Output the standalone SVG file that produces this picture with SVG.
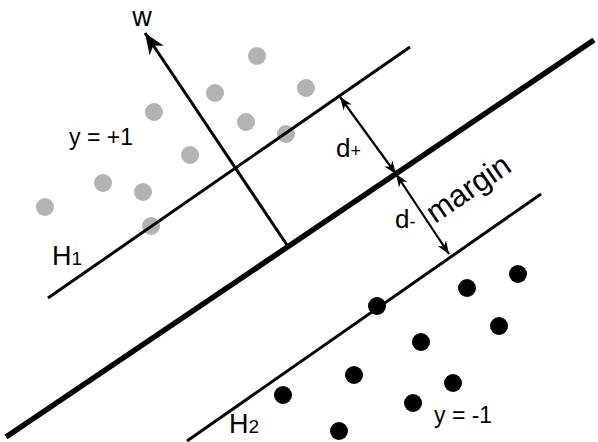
<svg xmlns="http://www.w3.org/2000/svg" width="598" height="442" viewBox="0 0 598 442">
<style>
  text { font-family: "Liberation Sans", Arial, sans-serif; fill: #000; }
  .hp { stroke: #000; stroke-width: 3; fill: none; }
  .main { stroke: #000; stroke-width: 5.5; fill: none; }
  .dim { stroke: #000; stroke-width: 2.2; fill: none; marker-start: url(#sm); marker-end: url(#sm); }
  .pos { fill: #b3b3b3; }
  .neg { fill: #000; }
</style>
<defs>
  <marker id="sm" viewBox="-14 -6 16 12" markerWidth="16" markerHeight="12" refX="0" refY="0" orient="auto-start-reverse" markerUnits="userSpaceOnUse">
    <path d="M0,0 L-13,-5 L-9,0 L-13,5 Z" fill="#000"/>
  </marker>
  <marker id="wm" viewBox="-22 -10 24 20" markerWidth="24" markerHeight="20" refX="0" refY="0" orient="auto" markerUnits="userSpaceOnUse">
    <path d="M0,0 L-21,-8.5 L-15,0 L-21,8.5 Z" fill="#000"/>
  </marker>
</defs>

<g id="points-positive">
  <circle class="pos" cx="257" cy="56" r="9"/>
  <circle class="pos" cx="306" cy="88" r="9"/>
  <circle class="pos" cx="215" cy="93" r="9"/>
  <circle class="pos" cx="154" cy="112" r="9"/>
  <circle class="pos" cx="246" cy="122" r="9"/>
  <circle class="pos" cx="286" cy="134" r="9"/>
  <circle class="pos" cx="190" cy="155" r="9"/>
  <circle class="pos" cx="103" cy="183" r="9"/>
  <circle class="pos" cx="143" cy="192" r="9"/>
  <circle class="pos" cx="45" cy="207" r="9"/>
  <circle class="pos" cx="151" cy="226" r="9"/>
</g>

<g id="points-negative">
  <circle class="neg" cx="518" cy="274" r="9"/>
  <circle class="neg" cx="467" cy="288" r="9"/>
  <circle class="neg" cx="377" cy="306" r="9"/>
  <circle class="neg" cx="499" cy="326" r="9"/>
  <circle class="neg" cx="421" cy="342" r="9"/>
  <circle class="neg" cx="354" cy="375" r="9"/>
  <circle class="neg" cx="453" cy="383" r="9"/>
  <circle class="neg" cx="283" cy="395" r="9"/>
  <circle class="neg" cx="413" cy="403" r="9"/>
  <circle class="neg" cx="339" cy="431" r="9"/>
</g>

<g id="connectors">
  <line id="H1-line" class="hp" x1="48" y1="298" x2="410" y2="47"/>
  <line id="main-line" class="main" x1="6" y1="437" x2="594" y2="40"/>
  <line id="H2-line" class="hp" x1="187" y1="441" x2="541" y2="194"/>
  <line id="w-arrow" class="hp" x1="287" y1="245" x2="145" y2="33" marker-end="url(#wm)"/>
  <line id="d-plus" class="dim" x1="340" y1="97" x2="396" y2="174"/>
  <line id="d-minus" class="dim" x1="396" y1="174" x2="449" y2="254"/>
</g>

<g id="labels">
  <text id="w" x="142" y="26" font-size="27" text-anchor="middle">w</text>
  <text id="ypos" x="69" y="145" font-size="23">y = +1</text>
  <text id="H1" x="52" y="265" font-size="27">H<tspan font-size="19">1</tspan></text>
  <text id="H2" x="229" y="433" font-size="27">H<tspan font-size="19">2</tspan></text>
  <text id="yneg" x="434" y="423" font-size="23">y = -1</text>
  <text id="dplus" x="336" y="157" font-size="26">d<tspan font-size="18">+</tspan></text>
  <text id="dminus" x="395" y="228" font-size="26">d<tspan font-size="18">-</tspan></text>
  <text id="margin" font-size="31" transform="translate(435,224) rotate(-34.5)">margin</text>
</g>
</svg>
